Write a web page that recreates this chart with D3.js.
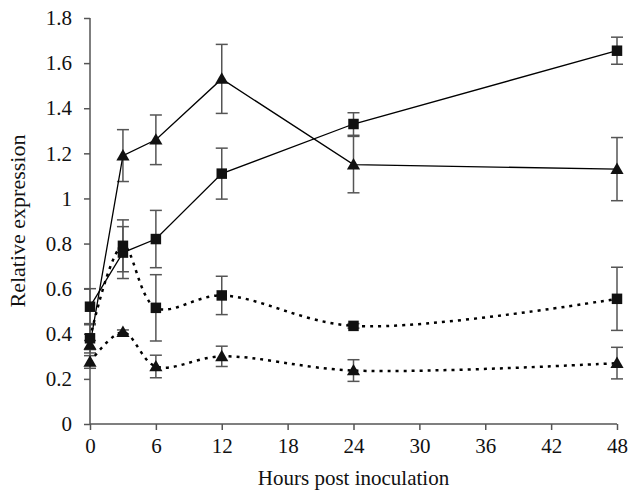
<!DOCTYPE html>
<html>
<head>
<meta charset="utf-8">
<script src="https://cdn.jsdelivr.net/npm/d3@7"></script>
<style>
  body { margin: 0; background: #fff; }
  text { font-family: "Liberation Serif", "DejaVu Serif", serif; fill: #111; }
</style>
</head>
<body>
<div id="chart"></div>
<script>
var hours = [0, 3, 6, 12, 24, 48];
var xTicks = [0, 6, 12, 18, 24, 30, 36, 42, 48];
var yTicks = [0, 0.2, 0.4, 0.6, 0.8, 1, 1.2, 1.4, 1.6, 1.8];

// solid lines
var sqSolid = [0.52, 0.76, 0.82, 1.11, 1.33, 1.655];
var sqSolidErr = [0.08, 0.115, 0.127, 0.113, 0.05, 0.06];
var triSolid = [0.35, 1.19, 1.26, 1.53, 1.15, 1.13];
var triSolidErr = [0.02, 0.115, 0.11, 0.153, 0.125, 0.14];
// dotted lines
var sqDot = [0.38, 0.79, 0.515, 0.57, 0.435, 0.555];
var sqDotErr = [0.065, 0.115, 0.147, 0.085, 0.01, 0.14];
var triDot = [0.275, 0.407, 0.255, 0.3, 0.237, 0.27];
var triDotErr = [0.028, 0.01, 0.05, 0.045, 0.048, 0.07];

var W = 629, H = 494;
var m = { l: 90, t: 18, r: 12, b: 70 };

var svg = d3.select("#chart").append("svg")
  .attr("width", W).attr("height", H);

var x = d3.scaleLinear().domain([0, 48]).range([m.l, W - m.r]);
var y = d3.scaleLinear().domain([0, 1.8]).range([H - m.b, m.t]);

var axisColor = "#555";

var gx = svg.append("g")
  .attr("transform", `translate(0,${H - m.b})`)
  .call(d3.axisBottom(x).tickValues(xTicks).tickSize(6).tickPadding(8).tickFormat(d3.format("d")));
var gy = svg.append("g")
  .attr("transform", `translate(${m.l},0)`)
  .call(d3.axisLeft(y).tickValues(yTicks).tickSize(6).tickPadding(12).tickFormat(d => d === 0 || d === 1 ? d : d3.format(".1f")(d)));

[gx, gy].forEach(g => {
  g.selectAll("path, line").attr("stroke", axisColor).attr("stroke-width", 1.5);
  g.selectAll("text").style("font-size", "21px").attr("fill", "#111");
});
gx.select(".domain").attr("d", `M${m.l},0H${W - m.r}`);
gy.select(".domain").attr("d", `M0,${H - m.b}V${m.t}`);

svg.append("text")
  .attr("x", (m.l + W - m.r) / 2)
  .attr("y", H - 9)
  .attr("text-anchor", "middle")
  .style("font-size", "21px")
  .text("Hours post inoculation");

svg.append("text")
  .attr("transform", `translate(25,${(m.t + H - m.b) / 2}) rotate(-90)`)
  .attr("text-anchor", "middle")
  .style("font-size", "22px")
  .text("Relative expression");

var series = [
  { v: sqSolid, e: sqSolidErr, shape: "square", dotted: false },
  { v: triSolid, e: triSolidErr, shape: "triangle", dotted: false },
  { v: sqDot, e: sqDotErr, shape: "square", dotted: true },
  { v: triDot, e: triDotErr, shape: "triangle", dotted: true },
];

var plot = svg.append("g");

// error bars first
series.forEach(s => {
  hours.forEach((h, i) => {
    var cx = x(h), top = y(s.v[i] + s.e[i]), bot = y(s.v[i] - s.e[i]);
    var eb = plot.append("g").attr("stroke", axisColor).attr("stroke-width", 1.5);
    eb.append("line").attr("x1", cx).attr("x2", cx).attr("y1", top).attr("y2", bot);
    eb.append("line").attr("x1", cx - 6).attr("x2", cx + 6).attr("y1", top).attr("y2", top);
    eb.append("line").attr("x1", cx - 6).attr("x2", cx + 6).attr("y1", bot).attr("y2", bot);
  });
});

series.forEach(s => {
  var line = d3.line()
    .x((d, i) => x(hours[i]))
    .y(d => y(d))
    .curve(s.dotted ? d3.curveCatmullRom.alpha(0.5) : d3.curveLinear);
  plot.append("path")
    .datum(s.v)
    .attr("d", line)
    .attr("fill", "none")
    .attr("stroke", "#000")
    .attr("stroke-width", s.dotted ? 2.5 : 1.3)
    .attr("stroke-dasharray", s.dotted ? "3,5" : null);
});

var sym = {
  square: d3.symbol().type(d3.symbolSquare).size(110),
  triangle: d3.symbol().type(d3.symbolTriangle).size(75),
};

series.forEach(s => {
  plot.selectAll(null)
    .data(s.v)
    .join("path")
    .attr("d", sym[s.shape])
    .attr("transform", (d, i) => `translate(${x(hours[i])},${y(d) + (s.shape === "triangle" ? 1 : 0)})`)
    .attr("fill", "#111");
});
</script>
</body>
</html>
